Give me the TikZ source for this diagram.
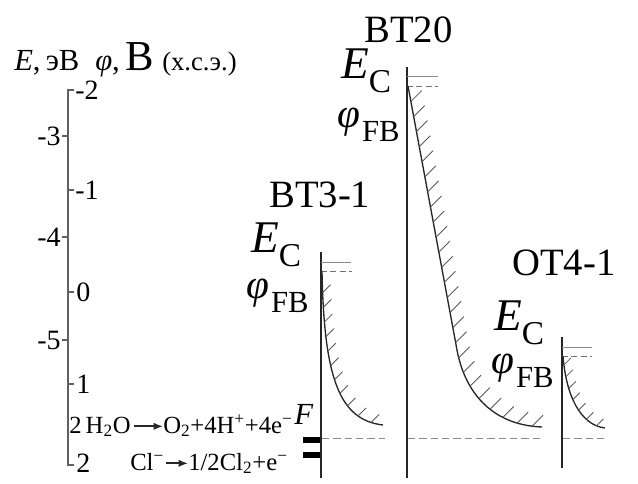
\documentclass[tikz,border=0pt]{standalone}
\usepackage{fontspec}
\setmainfont{Liberation Serif}
\usetikzlibrary{decorations.markings,arrows.meta}
\newcommand{\myfs}[1]{\fontsize{#1}{#1}\selectfont}
\newcommand{\ECl}{{\myfs{34}\textit{E}}\raisebox{-11pt}{\myfs{25}C}}
\newcommand{\FBl}{{\myfs{31}\textit{φ}}\kern1.5pt\raisebox{-11pt}{\myfs{23}FB}}
\tikzset{
  axisline/.style={draw=black!62, line width=1.3pt},
  electrode/.style={draw=black!85, line width=1.1pt},
  eclevel/.style={draw=black!45, line width=0.7pt},
  fblevel/.style={draw=black!55, line width=0.7pt, dash pattern=on 4.5pt off 2.5pt},
  fermi/.style={draw=black!45, line width=0.7pt, dash pattern=on 5.5pt off 3pt},
  band/.style={draw=black!85, line width=1pt},
  hatch/.style={draw=black!65, line width=0.65pt},
  hatched/.style n args={3}{postaction={decorate, decoration={markings,
      mark=between positions #1 and 0.99 step #2 with {\pgftransformresetnontranslations
        \draw[hatch] (0,0) -- (#3,-#3);}}}},
  lbl/.style={inner sep=0pt, anchor=base west},
  ticklbl/.style={inner sep=0pt, font=\myfs{21}},
  titletxt/.style={lbl, font=\myfs{29}},
  rx/.style={lbl, font=\myfs{18.5}},
  rxarrow/.style={-{Latex[length=7pt,width=5.5pt]}, line width=1.3pt, black!85},
}
\begin{document}
\begin{tikzpicture}[x=0.75pt,y=-0.75pt]
\useasboundingbox (0,0) rectangle (638,483);

% header
\node[lbl, font=\myfs{23}] (hE) at (14,70) {\textit{E},\,эВ};
\node[lbl, font=\myfs{23}] (hphi) at (95,70) {\textit{φ},};
\node[lbl, font=\myfs{32}] (hB) at (125,70) {В};
\node[lbl, font=\myfs{20}] (hx) at (162,70) {(х.с.э.)};

% axis
\draw[axisline] (74,90) -- (68,90) -- (68,465) -- (74,465);
\foreach \yy/\tt in {136/-3,237/-4,340/-5}{
  \draw[axisline] (62,\yy) -- (68,\yy);
  \node[ticklbl, anchor=east] at (61,\yy) {\tt};
}
\foreach \yy in {190,292,384}{
  \draw[axisline] (68,\yy) -- (74,\yy);
}
\node[ticklbl, anchor=west] (p1) at (75,90) {-2};
\node[ticklbl, anchor=west] (p2) at (75,190) {-1};
\node[ticklbl, anchor=west] (p3) at (76,292) {0};
\node[ticklbl, anchor=west] (p4) at (76,384) {1};
\node[ticklbl, anchor=west] (p5) at (76,463) {2};

% reactions
\node[rx] (r1a) at (69,433) {2\,H\textsubscript{2}O};
\node[rx] (r1b) at (163,433) {O\textsubscript{2}+4H\textsuperscript{+}+4e\textsuperscript{−}};
\draw[rxarrow] ([xshift=2pt,yshift=5pt]r1a.base east) -- ([yshift=5pt]r1b.base west);
\node[lbl, font=\myfs{23}] (F) at (294,424) {\textit{F}};
\node[rx] (r2a) at (130,470) {Cl\textsuperscript{−}};
\node[rx] (r2b) at (188,470) {1/2Cl\textsubscript{2}+e\textsuperscript{−}};
\draw[rxarrow] ([xshift=1pt,yshift=5pt]r2a.base east) -- ([yshift=5pt]r2b.base west);
\fill[black] (303,437) rectangle (322,443);
\fill[black] (303,452) rectangle (322,458);

% BT3-1
\node[titletxt] (t1) at (269,207) {BT3-1};
\node[lbl] (ec1) at (251,252) {\ECl};
\node[lbl] (fb1) at (246,298) {\FBl};
\draw[electrode] (321,252) -- (321,478);
\draw[eclevel] (321,262) -- (351,262);
\draw[fblevel] (321,271) -- (352,271);
\draw[band, hatched={0.12}{11pt}{8}] (322,271) .. controls (324,380) and (340,420) .. (383,425);
\draw[fermi] (322,438) -- (385,438);

% BT20
\node[titletxt] (t2) at (364,42) {BT20};
\node[lbl] (ec2) at (341,78) {\ECl};
\node[lbl] (fb2) at (337,127) {\FBl};
\draw[electrode] (407,67) -- (407,478);
\draw[eclevel] (407,76) -- (438,76);
\draw[fblevel] (407,86) -- (438,86);
\draw[band, hatched={0.04}{11.5pt}{11}] (408,86) -- (457,350) .. controls (464.4,390) and (490,425) .. (542,427);
\draw[fermi] (408,438) -- (542,438);

% OT4-1
\node[titletxt] (t3) at (512,275) {OT4-1};
\node[lbl] (ec3) at (494,330) {\ECl};
\node[lbl] (fb3) at (491,373) {\FBl};
\draw[electrode] (562,337) -- (562,468);
\draw[eclevel] (562,347) -- (592,347);
\draw[fblevel] (562,356) -- (592,356);
\draw[band, hatched={0.1}{9pt}{7}] (563,356) .. controls (566,395) and (580,425) .. (605,428);
\draw[fermi] (563,438) -- (607,438);
\end{tikzpicture}
\end{document}
